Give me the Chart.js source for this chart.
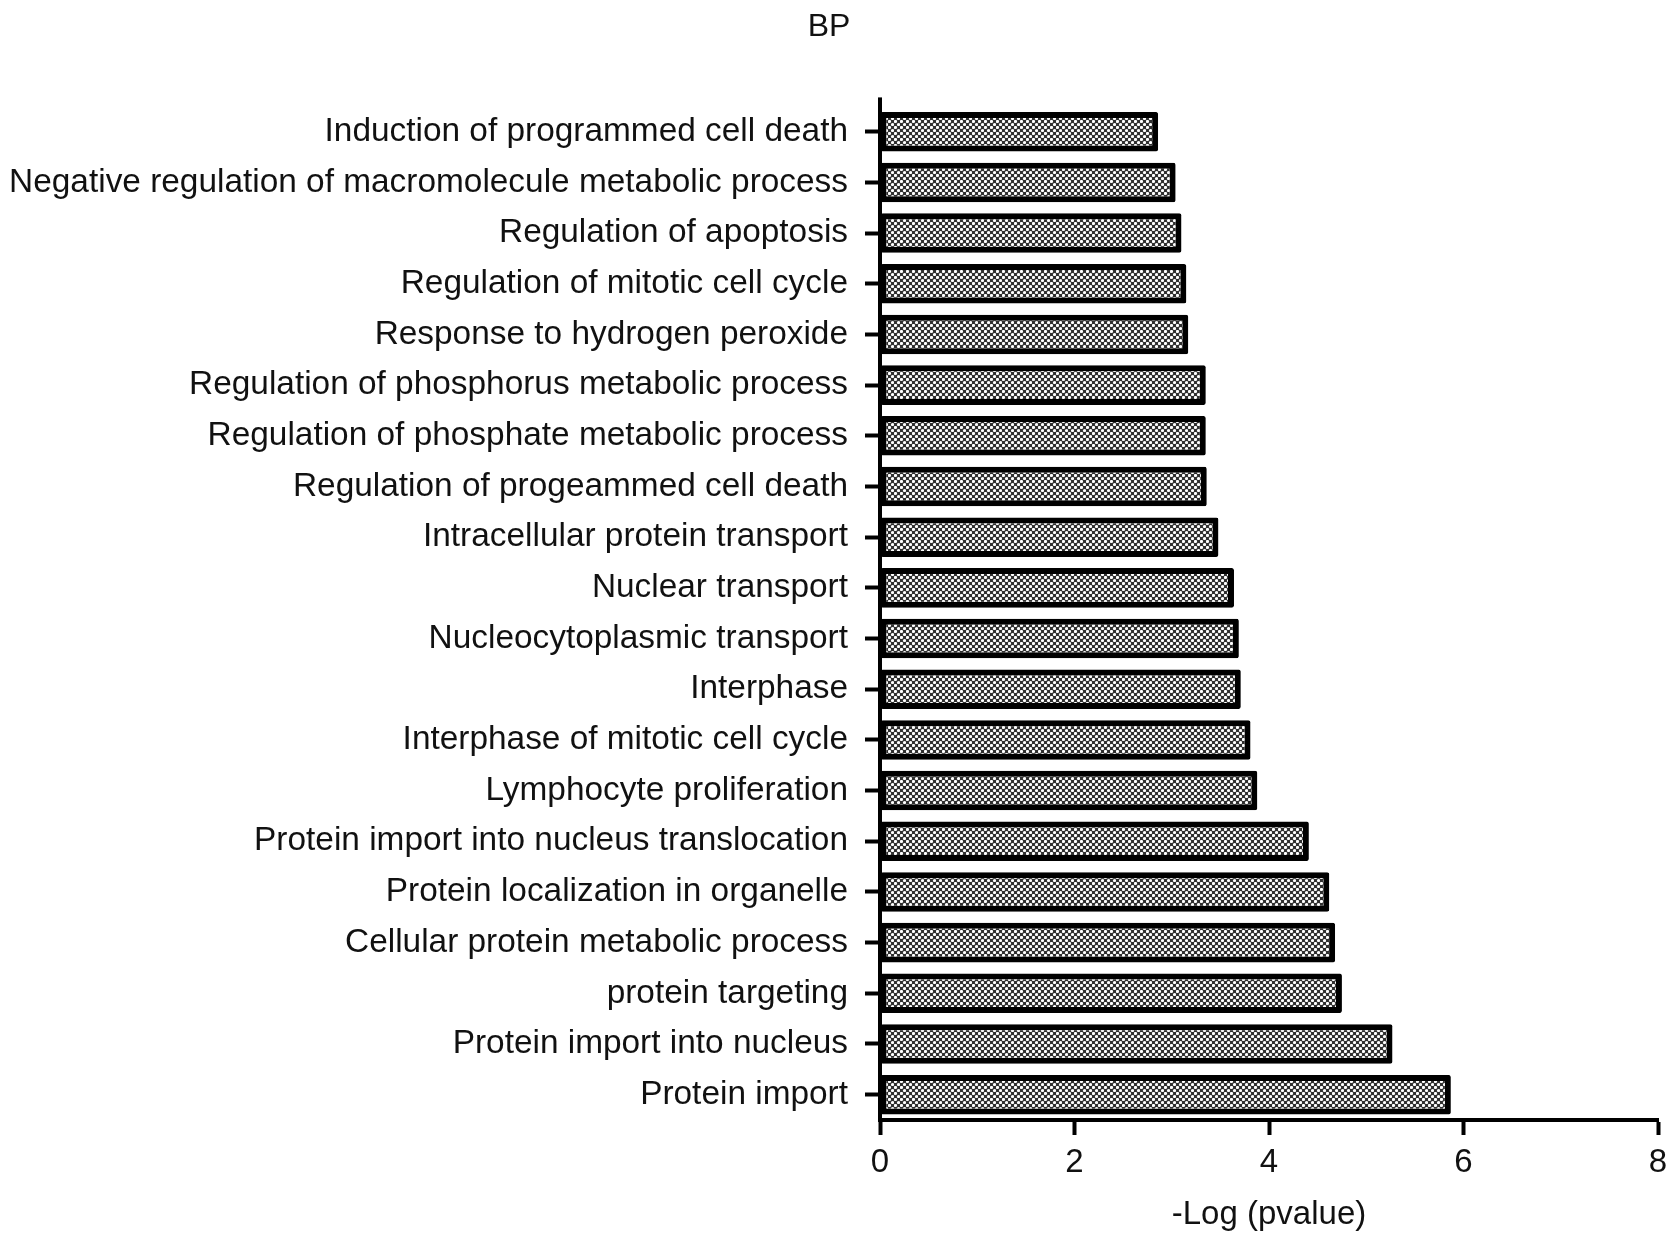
<!DOCTYPE html>
<html>
<head>
<meta charset="utf-8">
<script src="https://cdn.jsdelivr.net/npm/chart.js@4"></script>
<style>
  html, body { margin: 0; padding: 0; background: #fff; }
  canvas { display: block; }
</style>
</head>
<body>
<canvas id="bpChart" width="1679" height="1246"></canvas>
<script>
// GO terms, top to bottom as in the figure
var terms = [
  "Induction of programmed cell death",
  "Negative regulation of macromolecule metabolic process",
  "Regulation of apoptosis",
  "Regulation of mitotic cell cycle",
  "Response to hydrogen peroxide",
  "Regulation of phosphorus metabolic process",
  "Regulation of phosphate metabolic process",
  "Regulation of progeammed cell death",
  "Intracellular protein transport",
  "Nuclear transport",
  "Nucleocytoplasmic transport",
  "Interphase",
  "Interphase of mitotic cell cycle",
  "Lymphocyte proliferation",
  "Protein import into nucleus translocation",
  "Protein localization in organelle",
  "Cellular protein metabolic process",
  "protein targeting",
  "Protein import into nucleus",
  "Protein import"
];
var negLogP = [2.86, 3.04, 3.10, 3.15, 3.17, 3.35, 3.35, 3.36, 3.48, 3.64,
               3.69, 3.71, 3.81, 3.88, 4.41, 4.62, 4.68, 4.75, 5.27, 5.87];
var xTicks = [0, 2, 4, 6, 8];

Chart.defaults.font.family = "'Liberation Sans', Arial, sans-serif";
Chart.defaults.color = "#111";

// dotted fill like the original hatch
function dotPattern() {
  var c = document.createElement('canvas');
  c.width = 6; c.height = 6;
  var g = c.getContext('2d');
  g.fillStyle = '#303030';
  g.fillRect(0, 0, 6, 6);
  g.fillStyle = '#ffffff';
  [[1.5, 1.5], [4.5, 4.5]].forEach(function (p) {
    g.beginPath();
    g.arc(p[0], p[1], 1.6, 0, Math.PI * 2);
    g.fill();
  });
  return g.createPattern(c, 'repeat');
}

var canvas = document.getElementById('bpChart');
var ctx = canvas.getContext('2d');

// small stub of the y axis above the first bar
var axisStub = {
  id: 'axisStub',
  afterDraw: function (chart) {
    var a = chart.chartArea, c = chart.ctx;
    c.save();
    c.strokeStyle = '#000';
    c.lineWidth = 4;
    c.beginPath();
    c.moveTo(a.left, a.top - 9);
    c.lineTo(a.left, a.top + 1);
    c.stroke();
    c.restore();
  }
};

new Chart(ctx, {
  type: 'bar',
  data: {
    labels: terms,
    datasets: [{
      data: negLogP,
      backgroundColor: dotPattern(),
      borderColor: '#000',
      borderWidth: 6,
      borderSkipped: false,
      borderRadius: 2,
      barPercentage: 0.78,
      categoryPercentage: 1
    }]
  },
  plugins: [axisStub],
  options: {
    indexAxis: 'y',
    responsive: false,
    animation: false,
    layout: { padding: { left: 0, right: 21, top: 0, bottom: 0 } },
    plugins: {
      legend: { display: false },
      tooltip: { enabled: false },
      title: {
        display: true,
        text: 'BP',
        font: { size: 32, weight: 'normal' },
        color: '#111',
        padding: { top: 8, bottom: 60 }
      }
    },
    scales: {
      x: {
        type: 'linear',
        min: 0,
        max: 8,
        afterBuildTicks: function (scale) {
          scale.ticks = xTicks.map(function (v) { return { value: v }; });
        },
        afterFit: function (scale) { scale.height = 126; },
        grid: {
          drawOnChartArea: false,
          drawTicks: true,
          tickLength: 15,
          tickWidth: 4,
          tickColor: '#000'
        },
        border: { display: true, width: 4, color: '#000' },
        ticks: { font: { size: 33 }, color: '#111', padding: 8, maxRotation: 0 },
        title: {
          display: true,
          text: '-Log (pvalue)',
          font: { size: 33 },
          color: '#111',
          padding: { top: 4, bottom: 11 }
        }
      },
      y: {
        afterFit: function (scale) { scale.width = 880; },
        grid: {
          offset: false,
          drawOnChartArea: false,
          drawTicks: true,
          tickLength: 15,
          tickWidth: 4,
          tickColor: '#000'
        },
        border: { display: true, width: 4, color: '#000' },
        ticks: { font: { size: 33.4 }, color: '#111', padding: 17, autoSkip: false }
      }
    }
  }
});
</script>
</body>
</html>
